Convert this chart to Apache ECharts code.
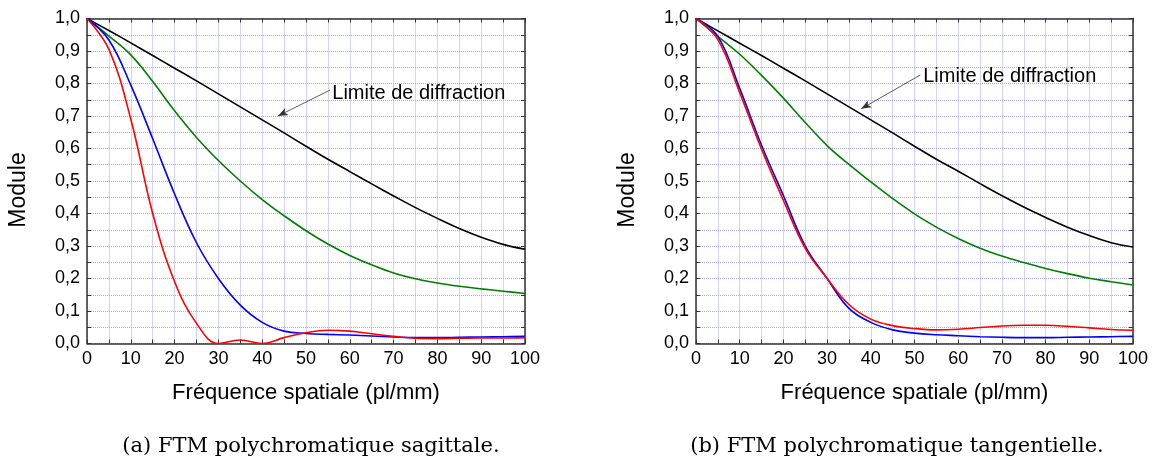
<!DOCTYPE html>
<html><head><meta charset="utf-8">
<script src="https://cdn.jsdelivr.net/npm/echarts@6/dist/echarts.min.js"></script>
<style>html,body{margin:0;padding:0;background:#fff}#c{width:1152px;height:459px}</style>
</head><body><div id="c"></div>
<script>
const freq = [0,5,10,15,20,25,30,35,40,45,50,55,60,65,70,75,80,85,90,95,100];
const yTickLabels = ['0,0','0,1','0,2','0,3','0,4','0,5','0,6','0,7','0,8','0,9','1,0'];
const xTickLabels = ['0','10','20','30','40','50','60','70','80','90','100'];

// (a) sagittal
const sagDiff  = [1.0,0.963,0.925,0.886,0.847,0.808,0.768,0.728,0.688,0.648,0.607,0.567,0.529,0.491,0.454,0.418,0.385,0.354,0.327,0.305,0.29];
const sagGreen = [1.0,0.946,0.888,0.806,0.716,0.634,0.563,0.50,0.443,0.393,0.347,0.306,0.271,0.242,0.217,0.199,0.186,0.176,0.168,0.161,0.154];
const sagBlue  = [1.0,0.934,0.795,0.63,0.46,0.31,0.20,0.118,0.065,0.038,0.031,0.028,0.026,0.023,0.02,0.018,0.018,0.019,0.02,0.021,0.022];
const sagRed   = [1.0,0.905,0.69,0.40,0.19,0.062,0.0,0.011,0.0,0.018,0.033,0.041,0.038,0.030,0.022,0.016,0.015,0.016,0.017,0.017,0.018];

// (b) tangential
const tanDiff  = [1.0,0.962,0.924,0.886,0.847,0.808,0.768,0.728,0.688,0.648,0.607,0.567,0.53,0.492,0.455,0.42,0.388,0.358,0.332,0.31,0.297];
const tanGreen = [1.0,0.945,0.89,0.825,0.755,0.68,0.609,0.551,0.497,0.446,0.399,0.358,0.323,0.293,0.269,0.249,0.231,0.215,0.201,0.19,0.18];
const tanBlue  = [1.0,0.945,0.785,0.61,0.455,0.30,0.20,0.108,0.065,0.042,0.032,0.027,0.024,0.021,0.019,0.018,0.018,0.019,0.02,0.021,0.022];
const tanRed   = [1.0,0.935,0.772,0.598,0.44,0.293,0.20,0.12,0.075,0.055,0.046,0.042,0.044,0.049,0.054,0.056,0.056,0.053,0.048,0.043,0.041];

const captionA = '(a) FTM polychromatique sagittale.';
const captionB = '(b) FTM polychromatique tangentielle.';
const annotText = 'Limite de diffraction';
const xName = 'Fréquence spatiale (pl/mm)';
const yName = 'Module';

const pairs = ys => freq.map((f,i)=>[f, ys[i]]);
const sans = 'Liberation Sans, Arial, sans-serif';
const axisColor = '#333';
const gridColor = '#a8a8f0';

function mainX(gi){
  return {gridIndex:gi,type:'value',min:0,max:100,interval:10,
    name:xName,nameLocation:'middle',nameGap:38,
    nameTextStyle:{fontFamily:sans,fontSize:22,color:'#000'},
    axisLine:{lineStyle:{color:axisColor,width:1.5}},
    axisTick:{inside:true,length:4,lineStyle:{color:axisColor}},
    minorTick:{show:true,splitNumber:2,length:4,lineStyle:{color:axisColor}},
    axisLabel:{fontFamily:sans,fontSize:18,color:'#000',margin:7,
      formatter:v=>xTickLabels[Math.round(v/10)]},
    splitLine:{show:true,lineStyle:{color:gridColor,type:'dotted',width:1}},
    minorSplitLine:{show:true,lineStyle:{color:gridColor,type:'dotted',width:1}}};
}
function mainY(gi){
  return {gridIndex:gi,type:'value',min:0,max:1,interval:0.1,
    name:yName,nameLocation:'middle',nameGap:57,
    nameTextStyle:{fontFamily:sans,fontSize:23,color:'#000',padding:[0,18,0,0]},
    axisLine:{lineStyle:{color:axisColor,width:1.5}},
    axisTick:{inside:true,length:4,lineStyle:{color:axisColor}},
    minorTick:{show:true,splitNumber:2,length:4,lineStyle:{color:axisColor}},
    axisLabel:{fontFamily:sans,fontSize:18,color:'#000',margin:7,
      formatter:v=>yTickLabels[Math.round(v*10)]},
    splitLine:{show:true,lineStyle:{color:gridColor,type:'dotted',width:1}},
    minorSplitLine:{show:true,lineStyle:{color:gridColor,type:'dotted',width:1}}};
}
function boxX(gi){
  return {gridIndex:gi,type:'value',min:0,max:100,interval:10,position:'top',
    axisLine:{show:true,onZero:false,lineStyle:{color:axisColor,width:1.5}},
    axisTick:{inside:true,length:4,lineStyle:{color:axisColor}},
    minorTick:{show:true,splitNumber:2,length:4,lineStyle:{color:axisColor}},
    axisLabel:{show:false},splitLine:{show:false}};
}
function boxY(gi){
  return {gridIndex:gi,type:'value',min:0,max:1,interval:0.1,position:'right',
    axisLine:{show:true,onZero:false,lineStyle:{color:axisColor,width:1.5}},
    axisTick:{inside:true,length:4,lineStyle:{color:axisColor}},
    minorTick:{show:true,splitNumber:2,length:4,lineStyle:{color:axisColor}},
    axisLabel:{show:false},splitLine:{show:false}};
}
function line(gi, ys, color, extra){
  return Object.assign({type:'line',xAxisIndex:gi*2,yAxisIndex:gi*2,data:pairs(ys),
    smooth:0.4,showSymbol:false,symbol:'none',silent:true,
    lineStyle:{color:color,width:1.6},z:3}, extra||{});
}
function annot(from,to,textAt){
  return {
    markLine:{silent:true,symbol:['none','arrow'],symbolSize:[6,10],
      lineStyle:{color:'#333',width:0.8,type:'solid'},label:{show:false},
      data:[[{coord:from},{coord:to}]]},
    markPoint:{silent:true,symbol:'circle',symbolSize:0,
      data:[{coord:textAt}],
      label:{show:true,position:'right',distance:0,formatter:annotText,
        fontFamily:sans,fontSize:20,color:'#000'}}
  };
}

const chart = echarts.init(document.getElementById('c'),null,{renderer:'canvas'});
chart.setOption({
  animation:false,
  backgroundColor:'#fff',
  grid:[
    {left:87,top:18.5,width:438,height:325},
    {left:696,top:18.5,width:437,height:325}
  ],
  title:[
    {text:captionA,left:306,top:431,textAlign:'center',
      textStyle:{fontFamily:'DejaVu Serif',fontWeight:'normal',fontSize:21,color:'#000'}},
    {text:captionB,left:892,top:431,textAlign:'center',
      textStyle:{fontFamily:'DejaVu Serif',fontWeight:'normal',fontSize:21,color:'#000'}}
  ],
  xAxis:[mainX(0),boxX(0),mainX(1),boxX(1)],
  yAxis:[mainY(0),boxY(0),mainY(1),boxY(1)],
  series:[
    line(0,sagDiff,'#000000',annot([55.5,0.78],[43.6,0.70],[56,0.77])),
    line(0,sagGreen,'#008000'),
    line(0,sagBlue,'#0000ff'),
    line(0,sagRed,'#ff0000'),
    line(1,tanDiff,'#000000',annot([51.3,0.826],[37.8,0.722],[52,0.823])),
    line(1,tanGreen,'#008000'),
    line(1,tanBlue,'#0000ff'),
    line(1,tanRed,'#ff0000')
  ]
});
</script></body></html>
